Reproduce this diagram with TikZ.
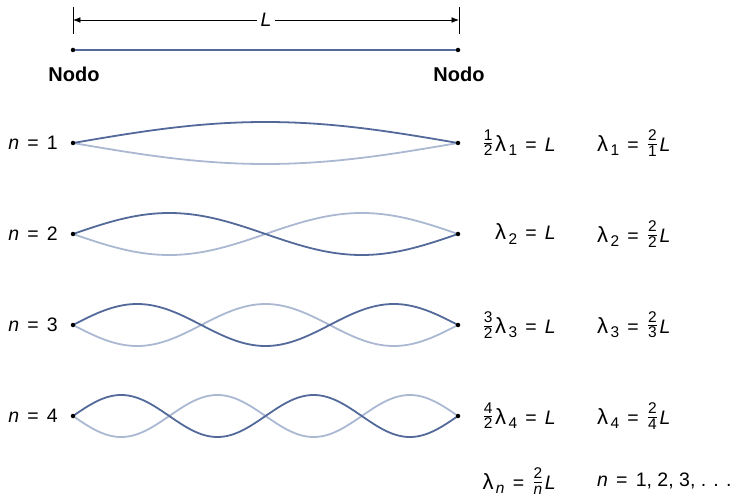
\documentclass[tikz,border=0pt]{standalone}
\usepackage{fontspec}
\setmainfont{Liberation Sans}
\usepackage{tikz}
\usetikzlibrary{arrows.meta, positioning}

\definecolor{wavedark}{HTML}{52699A}
\definecolor{wavelight}{HTML}{AAB8D2}

\newcommand{\smallfrac}[2]{\raisebox{0.25ex}{$\frac{\mbox{\fontsize{15.5}{15.5}\selectfont #1}}{\mbox{\fontsize{15.5}{15.5}\selectfont #2}}$}\hspace{0.08em}}
\newcommand{\lam}[1]{{\fontsize{22}{22}\selectfont λ}\hspace{0.12em}\raisebox{-0.4ex}{\fontsize{15.5}{15.5}\selectfont #1}}
\newcommand{\eqsign}{\hspace{0.42em}=\hspace{0.42em}}

\begin{document}
\begin{tikzpicture}[
    x=1pt, y=-1pt,
    label/.style={font=\fontsize{19.5}{22}\selectfont, inner sep=0pt},
    nodolabel/.style={font=\bfseries\fontsize{20}{23}\selectfont, inner sep=0pt},
    pin/.style={circle, fill=black, inner sep=0pt, minimum size=4.5pt},
    dark/.style={wavedark, line width=1.8pt},
    light/.style={wavelight, line width=1.8pt},
    dimline/.style={{Latex[length=2.6mm,width=2mm]}-{Latex[length=2.6mm,width=2mm]}, line width=0.7pt},
    tick/.style={line width=0.8pt}
]
\useasboundingbox (0,0) rectangle (745,500);

% Length L
\coordinate (tl) at (73,7);
\coordinate (bl) at (73,34);
\coordinate (tr) at (459,7);
\coordinate (br) at (459,34);
\draw[tick] (tl) -- (bl);
\draw[tick] (tr) -- (br);
\draw[dimline] (73,20) -- (459,20);
\node[label, fill=white, inner xsep=4pt] (len) at (266,20) {\itshape L};

% String at rest
\node[pin] (a0) at (73,50) {};
\node[pin] (b0) at (458,50) {};
\draw[wavedark, line width=1.2pt] (a0) -- (b0);
\node[nodolabel] (nodoa) at (74,74) {Nodo};
\node[nodolabel] (nodob) at (459,74) {Nodo};

% n = 1
\draw[light] plot[domain=0:385, samples=100] ({73+\x}, {143+21*sin(\x/385*180)});
\draw[dark] plot[domain=0:385, samples=100] ({73+\x}, {143-21*sin(\x/385*180)});
\node[pin] (a1) at (73,143) {};
\node[pin] (b1) at (458,143) {};
\node[label, anchor=east] (n1) at (58,143) {\textit{n}\eqsign 1};
\node[label, anchor=east] (eqa1) at (556,143) {\smallfrac{1}{2}\lam{1}\eqsign\textit{L}};
\node[label, anchor=west] (eqb1) at (597,143) {\lam{1}\eqsign\smallfrac{2}{1}\textit{L}};

% n = 2
\draw[light] plot[domain=0:385, samples=120] ({73+\x}, {234+21*sin(\x/385*360)});
\draw[dark] plot[domain=0:385, samples=120] ({73+\x}, {234-21*sin(\x/385*360)});
\node[pin] (a2) at (73,234) {};
\node[pin] (b2) at (458,234) {};
\node[label, anchor=east] (n2) at (58,234) {\textit{n}\eqsign 2};
\node[label, anchor=east] (eqa2) at (556,234) {\lam{2}\eqsign\textit{L}};
\node[label, anchor=west] (eqb2) at (597,234) {\lam{2}\eqsign\smallfrac{2}{2}\textit{L}};

% n = 3
\draw[light] plot[domain=0:385, samples=150] ({73+\x}, {325+21*sin(\x/385*540)});
\draw[dark] plot[domain=0:385, samples=150] ({73+\x}, {325-21*sin(\x/385*540)});
\node[pin] (a3) at (73,325) {};
\node[pin] (b3) at (458,325) {};
\node[label, anchor=east] (n3) at (58,325) {\textit{n}\eqsign 3};
\node[label, anchor=east] (eqa3) at (556,325) {\smallfrac{3}{2}\lam{3}\eqsign\textit{L}};
\node[label, anchor=west] (eqb3) at (597,325) {\lam{3}\eqsign\smallfrac{2}{3}\textit{L}};

% n = 4
\draw[light] plot[domain=0:385, samples=180] ({73+\x}, {416+21*sin(\x/385*720)});
\draw[dark] plot[domain=0:385, samples=180] ({73+\x}, {416-21*sin(\x/385*720)});
\node[pin] (a4) at (73,416) {};
\node[pin] (b4) at (458,416) {};
\node[label, anchor=east] (n4) at (58,416) {\textit{n}\eqsign 4};
\node[label, anchor=east] (eqa4) at (556,416) {\smallfrac{4}{2}\lam{4}\eqsign\textit{L}};
\node[label, anchor=west] (eqb4) at (597,416) {\lam{4}\eqsign\smallfrac{2}{4}\textit{L}};

% General case
\node[label, anchor=east] (gena) at (556,481) {\lam{\itshape n}\eqsign\smallfrac{2}{\itshape n}\textit{L}};
\node[label, anchor=west] (genb) at (597,481) {\textit{n}\eqsign 1, 2, 3, . . .};

\end{tikzpicture}
\end{document}
